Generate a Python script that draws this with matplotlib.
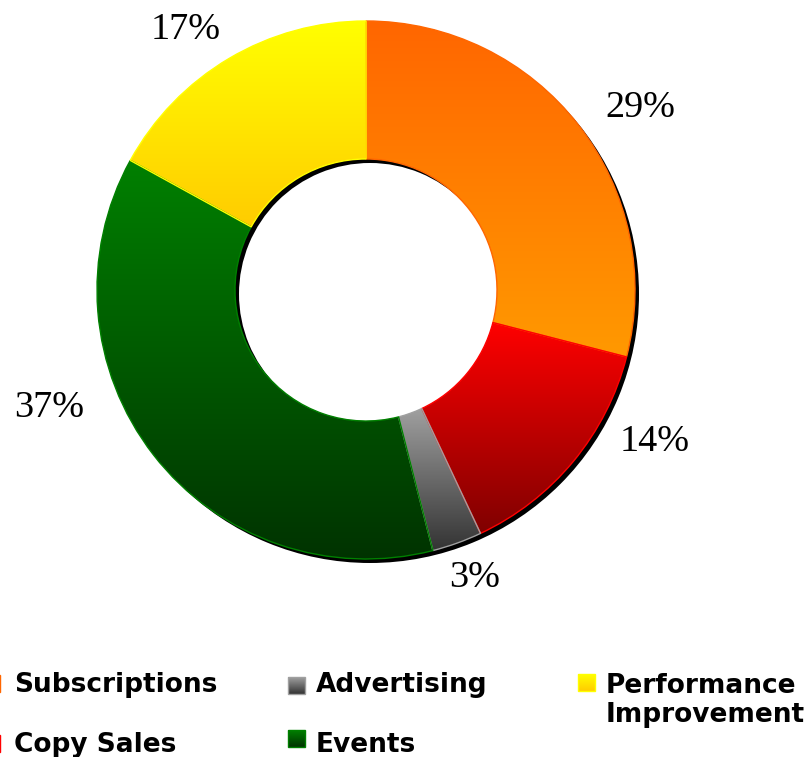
import numpy as np
import matplotlib
matplotlib.use("Agg")
import matplotlib.pyplot as plt
from matplotlib.colors import to_rgb
from matplotlib.patches import Wedge, Rectangle

# ---- data ----
categories = ["Subscriptions", "Copy Sales", "Advertising", "Events", "Performance Improvement"]
shares = [29, 14, 3, 37, 17]
pct_labels = ["29%", "14%", "3%", "37%", "17%"]
legend_labels = ["Subscriptions", "Copy Sales", "Advertising", "Events", "Performance\nImprovement"]
top_colors = ["#FF6600", "#FF0000", "#A0A0A0", "#008000", "#FFFF00"]
bottom_colors = ["#FF9900", "#800000", "#333333", "#003300", "#FFCC00"]

# ---- layout (pixel coordinates, y measured from top) ----
W, H = 809, 757
CX, CY = 366, 290
R, RING = 269, 138
label_pos = [(640, 117), (655, 451), (475, 587), (49, 417), (186, 39)]
legend_text_pos = [(14, 692), (14, 752), (316, 692), (316, 752), (606, 722)]
legend_box_pos = [(-17, 675), (-17, 735), (288, 677), (288, 730), (578, 674)]
BOX = 17

fig = plt.figure(figsize=(W / 100, H / 100), dpi=100)
ax = fig.add_axes([0, 0, 1, 1])


def gy(y):
    return H - y


def gradient(top, bottom, n=256):
    t = np.linspace(0, 1, n)[:, None]
    c = (1 - t) * np.array(to_rgb(top)) + t * np.array(to_rgb(bottom))
    return c.reshape(n, 1, 3)


# shadow
ax.add_patch(Wedge((CX + 4, gy(CY) - 4), R, 0, 360, width=RING,
                   facecolor="black", lw=0, zorder=1))

wedges, _ = ax.pie(shares, radius=R, center=(CX, gy(CY)), startangle=90,
                   counterclock=False, wedgeprops=dict(width=RING, linewidth=0))

for w, tc, bc in zip(wedges, top_colors, bottom_colors):
    ext = w.get_path().get_extents()
    im = ax.imshow(gradient(tc, bc), extent=(ext.x0, ext.x1, ext.y0, ext.y1),
                   origin="upper", aspect="auto", interpolation="bilinear", zorder=2)
    im.set_clip_path(w)
    w.set_facecolor("none")
    w.set_edgecolor(tc)
    w.set_linewidth(1.0)
    w.set_zorder(3)

for lab, (x, y) in zip(pct_labels, label_pos):
    ax.text(x, gy(y), lab, ha="center", va="baseline", fontsize=27.5,
            family="Liberation Serif", color="black", zorder=5)

# legend
for lab, (tx, ty), (bx, by), tc, bc in zip(legend_labels, legend_text_pos,
                                           legend_box_pos, top_colors, bottom_colors):
    rect = Rectangle((bx, gy(by + BOX)), BOX, BOX, facecolor="none",
                     edgecolor=tc, lw=1.0, zorder=3)
    ax.add_patch(rect)
    im = ax.imshow(gradient(tc, bc), extent=(bx, bx + BOX, gy(by + BOX), gy(by)),
                   origin="upper", aspect="auto", interpolation="bilinear", zorder=2)
    im.set_clip_path(rect)
    ax.text(tx, gy(ty), lab, ha="left", va="baseline", fontsize=19,
            family="DejaVu Sans", fontweight="bold", color="black",
            linespacing=1.15, zorder=5)

ax.set_xlim(0, W)
ax.set_ylim(0, H)
ax.set_aspect("auto")
ax.axis("off")
fig.savefig("out.png", dpi=100)
